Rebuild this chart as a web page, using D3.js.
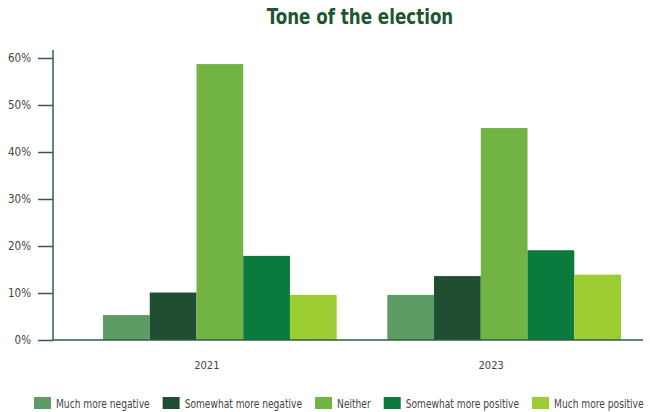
<!DOCTYPE html>
<html><head><meta charset="utf-8">
<script src="https://cdn.jsdelivr.net/npm/d3@7"></script>
<style>
body{margin:0;background:#fff;}
svg{display:block;}
text{font-family:"DejaVu Sans Condensed","DejaVu Sans",sans-serif;}
</style></head>
<body><svg id="c" width="650" height="412"></svg>
<script>
const years = ["2021", "2023"];
const seriesNames = ["Much more negative", "Somewhat more negative", "Neither", "Somewhat more positive", "Much more positive"];
const much_more_negative = [5.3, 9.6];
const somewhat_more_negative = [10.1, 13.6];
const neither = [58.7, 45.1];
const somewhat_more_positive = [17.9, 19.1];
const much_more_positive = [9.6, 13.9];
const colors = ["#5f9c65", "#1f4e32", "#71b443", "#0a7a3d", "#9bcc32"];
const yTicks = [0, 10, 20, 30, 40, 50, 60];
const title = "Tone of the election";

const seriesValues = [much_more_negative, somewhat_more_negative, neither, somewhat_more_positive, much_more_positive];
const data = years.map((y, i) => ({year: y, values: seriesNames.map((s, k) => ({key: s, value: seriesValues[k][i]}))}));

const svg = d3.select("#c");
const axisColor = "#2f5e40";
const labelColor = "#444";
const squeeze = 0.845;

const y = d3.scaleLinear().domain([0, 60]).range([340, 58]);
const x0 = d3.scaleBand().domain(years).range([78, 646]).paddingInner(0.178).paddingOuter(0.088);
const x1 = d3.scaleBand().domain(seriesNames).range([0, x0.bandwidth()]);
const color = d3.scaleOrdinal().domain(seriesNames).range(colors);

// title
svg.append("text").attr("transform", `translate(360,24) scale(${squeeze},1)`).attr("text-anchor", "middle")
  .attr("fill", "#1e5631").attr("font-size", 22).attr("font-weight", "bold").text(title);

// bars
const g = svg.append("g");
g.selectAll("g.grp").data(data).join("g").attr("class", "grp")
  .attr("transform", d => `translate(${x0(d.year)},0)`)
  .selectAll("rect").data(d => d.values).join("rect")
  .attr("x", d => x1(d.key)).attr("width", x1.bandwidth())
  .attr("y", d => y(d.value)).attr("height", d => y(0) - y(d.value))
  .attr("fill", d => color(d.key));

// y axis
const yAxis = svg.append("g").attr("transform", "translate(53,0)")
  .call(d3.axisLeft(y).tickValues(yTicks).tickSize(15).tickPadding(7).tickFormat(d => d + "%"));
yAxis.select(".domain").remove();
yAxis.selectAll(".tick line").attr("stroke", axisColor).attr("stroke-width", 1.5);
yAxis.selectAll(".tick text").attr("fill", labelColor).attr("font-size", 11.5)
  .style("font-family", '"DejaVu Sans Condensed","DejaVu Sans",sans-serif');
svg.append("line").attr("x1", 53).attr("x2", 53).attr("y1", 50).attr("y2", y(0))
  .attr("stroke", axisColor).attr("stroke-width", 1.5);

// x axis
const xAxis = svg.append("g").attr("transform", `translate(0,${y(0)})`)
  .call(d3.axisBottom(x0).tickSize(0).tickPadding(21));
xAxis.select(".domain").remove();
xAxis.selectAll(".tick text").attr("fill", labelColor).attr("font-size", 11).attr("dx", -13)
  .style("font-family", '"DejaVu Sans Condensed","DejaVu Sans",sans-serif');
svg.append("line").attr("x1", 53).attr("x2", 643).attr("y1", y(0)).attr("y2", y(0))
  .attr("stroke", axisColor).attr("stroke-width", 1.5);

// legend
const leg = svg.append("g");
let lx = 34;
seriesNames.forEach((s, i) => {
  const it = leg.append("g").attr("transform", `translate(${lx},397)`);
  it.append("rect").attr("width", 17).attr("height", 12).attr("fill", color(s));
  const t = it.append("text").attr("transform", `translate(22,10.5) scale(${squeeze},1)`).attr("fill", labelColor)
    .attr("font-size", 12).text(s);
  lx += 22 + t.node().getComputedTextLength() * squeeze + 13;
});
</script></body></html>
